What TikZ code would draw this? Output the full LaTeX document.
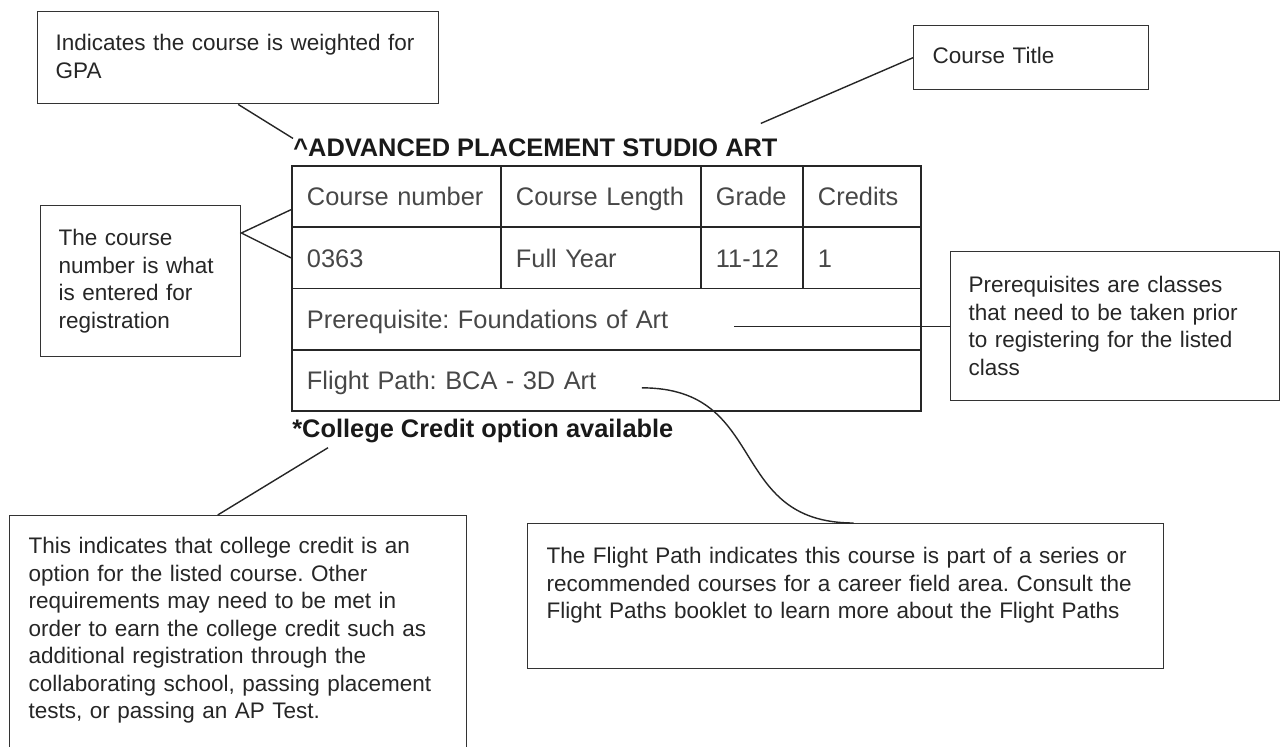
\documentclass[tikz,border=0pt]{standalone}
\usepackage{fontspec}
\setmainfont{Liberation Sans}
\newcommand{\notefont}{\frenchspacing\fontsize{12.8pt}{15.65pt}\selectfont}
\newcommand{\cellfont}{\frenchspacing\fontsize{14.45pt}{17pt}\selectfont}
\newcommand{\headfont}{\bfseries\fontsize{14.45pt}{17pt}\selectfont}
\tikzset{
  note/.style={draw=black!80, line width=0.8pt, anchor=north west, align=left,
    inner xsep=0.36cm, inner ysep=0pt, font=\notefont, text=black!85},
  cell/.style={draw=black!85, line width=1.1pt, anchor=north west, align=left,
    inner xsep=0.3cm, inner ysep=0pt, text height=0.8cm, text depth=0.425cm,
    font=\cellfont, text=black!72},
  heading/.style={anchor=base west, inner sep=0pt, font=\headfont, text=black!90},
  link/.style={draw=black!85, line width=0.8pt}
}
\begin{document}
\begin{tikzpicture}
\useasboundingbox (0,0) rectangle (25.6,-14.92);

% notes
\node[note, text width=7.3cm, text height=0.78cm, text depth=1.06cm] (gpa) at (0.74,-0.22) {Indicates the course is weighted for\\GPA};
\node[note, inner xsep=0.38cm, text width=3.94cm, text height=0.76cm, text depth=0.52cm] (ctitle) at (18.26,-0.5) {Course Title};
\node[note, text width=3.28cm, text height=0.8cm, text depth=2.22cm] (cnum) at (0.8,-4.1) {The course\\number is what\\is entered for\\registration};
\node[note, text width=5.86cm, text height=0.82cm, text depth=2.16cm] (prq) at (19.0,-5.02) {Prerequisites are classes\\that need to be taken prior\\to registering for the listed\\class};
\node[note, inner xsep=0.38cm, text width=8.38cm, text height=0.76cm, text depth=4.0cm] (ccnote) at (0.18,-10.3) {This indicates that college credit is an\\option for the listed course. Other\\requirements may need to be met in\\order to earn the college credit such as\\additional registration through the\\collaborating school, passing placement\\tests, or passing an AP Test.};
\node[note, inner xsep=0.38cm, text width=11.96cm, text height=0.8cm, text depth=2.1cm] (flight) at (10.54,-10.46) {The Flight Path indicates this course is part of a series or\\recommended courses for a career field area. Consult the\\Flight Paths booklet to learn more about the Flight Paths};

% course table
\node[heading] (title) at (5.86,-3.13) {\textasciicircum ADVANCED PLACEMENT STUDIO ART};
\node[cell, text width=3.58cm] (hnum) at (5.82,-3.3) {Course number};
\node[cell, text width=3.4cm] (hlen) at (10.0,-3.3) {Course Length};
\node[cell, text width=1.44cm] (hgrd) at (14.0,-3.3) {Grade};
\node[cell, text width=1.76cm] (hcrd) at (16.04,-3.3) {Credits};
\node[cell, text width=3.58cm] (vnum) at (5.82,-4.525) {0363};
\node[cell, text width=3.4cm] (vlen) at (10.0,-4.525) {Full Year};
\node[cell, text width=1.44cm] (vgrd) at (14.0,-4.525) {11-12};
\node[cell, text width=1.76cm] (vcrd) at (16.04,-4.525) {1};
\node[cell, text width=11.98cm] (rprq) at (5.82,-5.75) {Prerequisite: Foundations of Art};
\node[cell, text width=11.98cm] (rflt) at (5.82,-6.975) {Flight Path: BCA - 3D Art};
\node[heading] (ccopt) at (5.84,-8.74) {*College Credit option available};

% pointers
\draw[link] (gpa.south) -- (title.north west);
\draw[link] (ctitle.west) -- ([xshift=-0.34cm,yshift=0.3cm]title.north east);
\draw[link] ([yshift=0.37cm]hnum.south west) -- ([yshift=-0.56cm]cnum.north east) -- (vnum.west);
\draw[link] (prq.west) -- ([xshift=-4.32cm]prq.west);
\draw[link] ([xshift=-0.41cm]ccnote.north) -- ([xshift=0.72cm,yshift=-0.1cm]ccopt.south west);
\draw[link] ([xshift=0.71cm,yshift=-0.15cm]rflt.center) to[out=0,in=180,looseness=1.3] ([xshift=0.16cm]flight.north);
\end{tikzpicture}
\end{document}
